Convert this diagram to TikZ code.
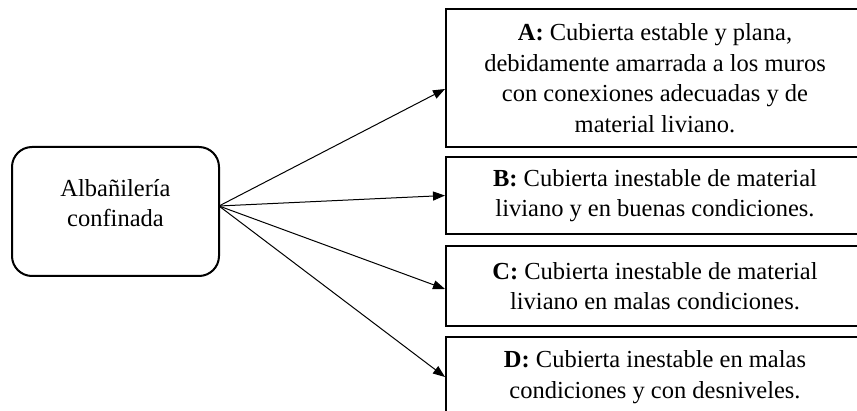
\documentclass[tikz,border=0pt]{standalone}
\usepackage{fontspec}
\setmainfont{Liberation Serif}
\usetikzlibrary{arrows.meta}
\begin{document}
\begin{tikzpicture}[x=1pt,y=-1pt,
  txt/.style={font=\fontsize{24.5}{30.5}\selectfont, align=center},
  optbox/.style={draw, line width=2pt, minimum width=418pt, inner sep=0pt, txt},
  mainbox/.style={draw, line width=2pt, rounded corners=20pt, minimum width=207pt, minimum height=129pt, inner sep=0pt},
  conn/.style={line width=1pt, -{Triangle[length=12pt,width=9pt]}}
]
\useasboundingbox (0,0) rectangle (857,411);
\node[mainbox] (left) at (115.5,211.5) {};
\node[txt] (lefttext) at (115.5,203) {Albañilería\\confinada};
\node[optbox, minimum height=138pt] (boxA) at (655,78) {\textbf{A:} Cubierta estable y plana,\\debidamente amarrada a los muros\\con conexiones adecuadas y de\\material liviano.};
\node[optbox, minimum height=77pt] (boxB) at (655,195.5) {\textbf{B:} Cubierta inestable de material\\liviano y en buenas condiciones.};
\node[optbox, minimum height=80pt] (boxC) at (655,286) {\textbf{C:} Cubierta inestable de material\\liviano en malas condiciones.};
\node[optbox, minimum height=80pt] (boxD) at (655,377) {\textbf{D:} Cubierta inestable en malas\\condiciones y con desniveles.};
\coordinate (src) at (219,206);
\draw[conn] (src) -- ([yshift=-11pt]boxA.west);
\draw[conn] (src) -- (boxB.west);
\draw[conn] (src) -- ([yshift=-3pt]boxC.west);
\draw[conn] (src) -- (boxD.west);
\end{tikzpicture}
\end{document}
